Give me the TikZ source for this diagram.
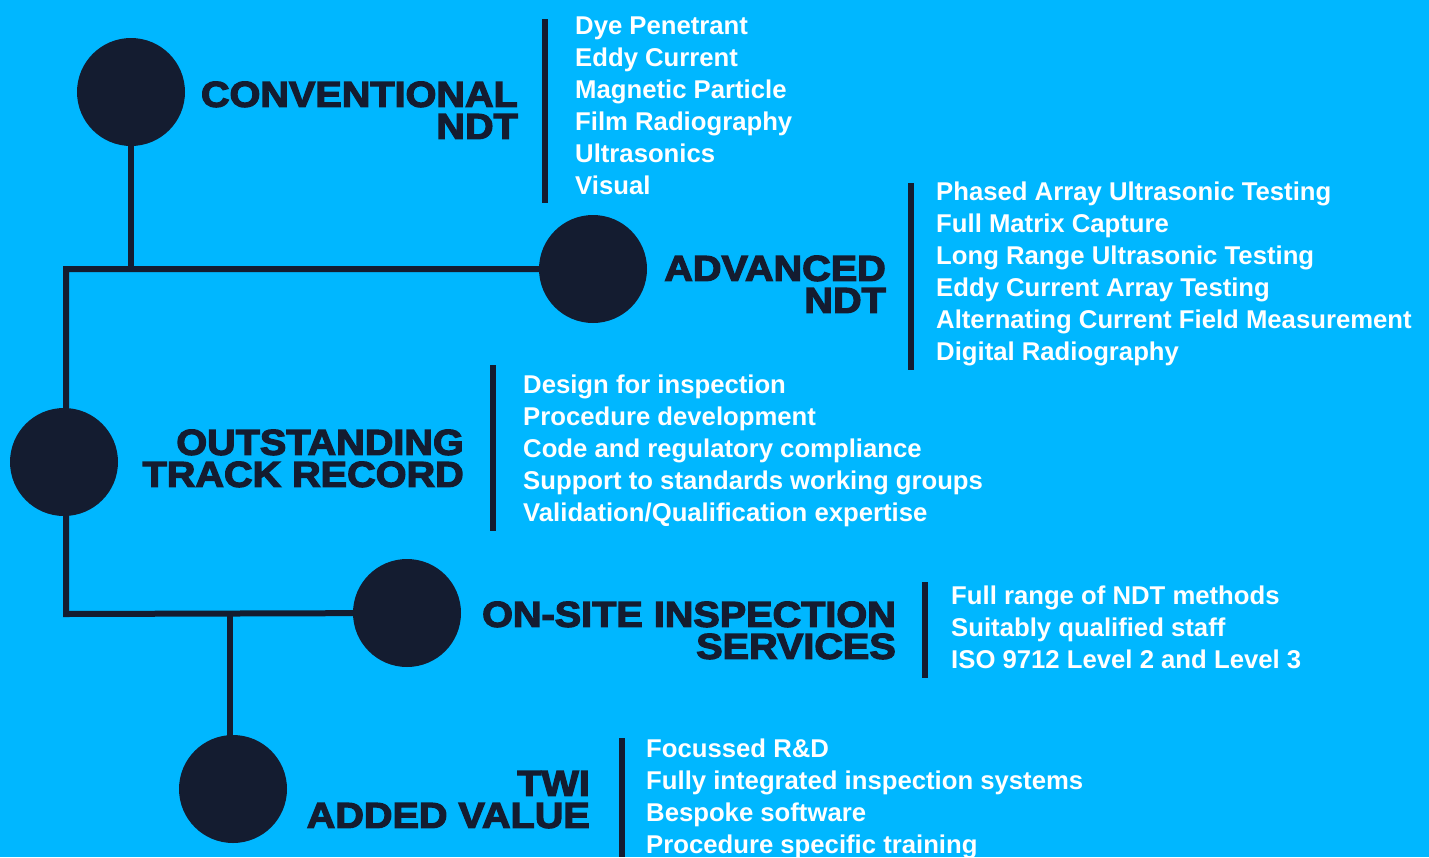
\documentclass[tikz,border=0pt]{standalone}
\usepackage{fontspec}
\setmainfont{Liberation Sans}
\newfontfamily\headfont{Liberation Sans}[FakeStretch=1.1,BoldFeatures={FakeBold=3.5}]
\definecolor{bgcyan}{RGB}{0,183,255}
\definecolor{navy}{RGB}{20,28,48}
\pgfdeclarelayer{bg}
\pgfdeclarelayer{lines}
\pgfsetlayers{bg,lines,main}
\begin{document}
\begin{tikzpicture}[x=1pt,y=-1pt,
  dot/.style={circle,fill=navy,minimum size=108pt,inner sep=0pt},
  link/.style={draw=navy,line width=6pt,line join=miter},
  sep/.style={draw=navy,line width=5.5pt},
  head/.style={font=\headfont\bfseries\fontsize{36}{32}\selectfont,text=navy,inner sep=0pt,align=right,anchor=south east,text depth=0pt},
  item/.style={font=\bfseries\fontsize{25.7}{32}\selectfont,text=white,inner sep=0pt,anchor=base west,text height=19pt,text depth=6pt}]
\begin{pgfonlayer}{bg}
\fill[bgcyan] (0,0) rectangle (1429,857);
\end{pgfonlayer}
\useasboundingbox (0,0) rectangle (1429,857);
% circles
\node[dot] (c1) at (131,92) {};
\node[dot] (c2) at (593,269) {};
\node[dot] (c3) at (64,462) {};
\node[dot] (c4) at (407,613) {};
\node[dot] (c5) at (233,789) {};
% junctions
\coordinate (j1) at (131,269);
\coordinate (k1) at (66,269);
\coordinate (k2) at (66,614);
\coordinate (j2) at (230,614);
\begin{pgfonlayer}{lines}
\draw[link] (c1.center) -- (j1);
\draw[link] (c2.center) -- (k1) -- (k2) -- (c4.center);
\draw[link] (j2) -- (j2 |- c5.center);
\end{pgfonlayer}
% separators
\draw[sep] (545,19) -- (545,203);
\draw[sep] (911,183) -- (911,370);
\draw[sep] (493,365) -- (493,531);
\draw[sep] (925,582) -- (925,678);
\draw[sep] (622,738) -- (622,857);
% headings (anchored at baseline of second line)
\node[head] (h1) at (518,139) {CONVENTIONAL\\NDT};
\node[head] (h2) at (886,313) {ADVANCED\\NDT};
\node[head] (h3) at (464,487) {OUTSTANDING\\TRACK RECORD};
\node[head] (h4) at (896,659) {ON-SITE INSPECTION\\SERVICES};
\node[head] (h5) at (590,828) {TWI\\ADDED VALUE};
% lists
\foreach \t [count=\i] in {Dye Penetrant,Eddy Current,Magnetic Particle,Film Radiography,Ultrasonics,Visual}
  \node[item] (a\i) at (575,2+32*\i) {\t};
\foreach \t [count=\i] in {Phased Array Ultrasonic Testing,Full Matrix Capture,Long Range Ultrasonic Testing,Eddy Current Array Testing,Alternating Current Field Measurement,Digital Radiography}
  \node[item] (b\i) at (936,168+32*\i) {\t};
\foreach \t [count=\i] in {Design for inspection,Procedure development,Code and regulatory compliance,Support to standards working groups,Validation/Qualification expertise}
  \node[item] (d\i) at (523,361+32*\i) {\t};
\foreach \t [count=\i] in {Full range of NDT methods,Suitably qualified staff,ISO 9712 Level 2 and Level 3}
  \node[item] (e\i) at (951,572+32*\i) {\t};
\foreach \t [count=\i] in {Focussed R\&D,Fully integrated inspection systems,Bespoke software,Procedure specific training}
  \node[item] (f\i) at (646,725+32*\i) {\t};
\end{tikzpicture}
\end{document}
